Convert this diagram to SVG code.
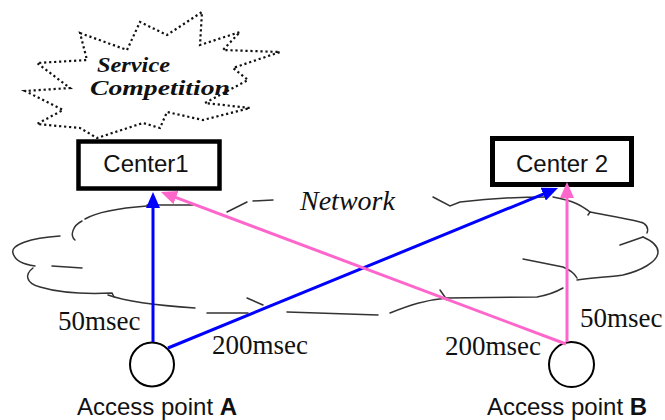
<svg xmlns="http://www.w3.org/2000/svg" width="665" height="420" viewBox="0 0 665 420">
  <style>
    .cloud { fill: none; stroke: #333; stroke-width: 1.5; stroke-linecap: round; }
    .burst { fill: none; stroke: #111; stroke-width: 2.2; stroke-dasharray: 2.2 2.8; }
    .box { fill: #fff; stroke: #000; }
    .ap { fill: #fff; stroke: #000; stroke-width: 2; }
    .sans { font-family: "Liberation Sans", Arial, sans-serif; fill: #111; }
    .serif { font-family: "Liberation Serif", "Times New Roman", serif; fill: #111; }
    .delay { font-size: 27px; }
    .blue { stroke: #0000ff; stroke-width: 3; fill: none; }
    .pink { stroke: #ff66cc; stroke-width: 3; fill: none; }
  </style>
  <defs>
    <marker id="arrow-blue" markerUnits="userSpaceOnUse" markerWidth="16" markerHeight="14" refX="4" refY="7" orient="auto">
      <path d="M0,0 L16,7 L0,14 z" fill="#0000ff"/>
    </marker>
    <marker id="arrow-pink" markerUnits="userSpaceOnUse" markerWidth="16" markerHeight="14" refX="4" refY="7" orient="auto">
      <path d="M0,0 L16,7 L0,14 z" fill="#ff66cc"/>
    </marker>
  </defs>

  <rect width="665" height="420" fill="#fff"/>

  <!-- network cloud -->
  <g id="network">
    <path class="cloud" d="M147,205 L193,205"/>
    <path class="cloud" d="M147,206 C120,208 97,212 85,219"/>
    <path class="cloud" d="M82,221 C72,226 70,236 75,240"/>
    <path class="cloud" d="M60,236 C30,238 10,245 13,253 C15,262 28,265 35,266"/>
    <path class="cloud" d="M52,266 L82,268"/>
    <path class="cloud" d="M33,268 C25,274 25,283 40,287 C60,293 90,294 112,293 L114,297"/>
    <path class="cloud" d="M108,295 C125,301 150,305 195,308"/>
    <path class="cloud" d="M207,313 L248,313"/>
    <path class="cloud" d="M247,298 L263,305"/>
    <path class="cloud" d="M287,312 L378,315"/>
    <path class="cloud" d="M390,313 C410,305 425,300 447,298 L537,297 C548,295 556,292 563,288"/>
    <path class="cloud" d="M440,290 L447,300"/>
    <path class="cloud" d="M523,259 L563,267 C570,270 575,274 577,278"/>
    <path class="cloud" d="M577,280 C595,277 612,277 623,275 C640,271 658,262 658,252 C658,245 650,240 643,237"/>
    <path class="cloud" d="M620,245 L643,237"/>
    <path class="cloud" d="M647,233 C649,228 646,223 640,222 C625,218 605,215 590,212 L588,215"/>
    <path class="cloud" d="M590,212 C582,206 575,201 553,197"/>
    <path class="cloud" d="M433,197 L450,206 L460,202 C485,199 515,197 547,197"/>
    <path class="cloud" d="M227,212 L247,202"/>
    <path class="cloud" d="M253,201 L273,200"/>
    <text class="serif" x="300" y="210" font-size="28" font-style="italic">Network</text>
  </g>

  <!-- service competition burst -->
  <g id="service-competition">
    <path class="burst" d="M80,33 L127,50 L140,22 L167,35 L202,12 L200,45 L240,32 L223,50 L280,52 L233,68 L248,80 L205,103 L250,108 L203,120 L167,112 L160,128 L143,123 L97,138 L80,128 L37,124 L63,110 L25,91 L70,88 L37,63 L87,60 Z"/>
    <text class="serif" x="97" y="72" font-size="20" font-style="italic" font-weight="bold" textLength="73" lengthAdjust="spacingAndGlyphs">Service</text>
    <text class="serif" x="90" y="95" font-size="20" font-style="italic" font-weight="bold" textLength="140" lengthAdjust="spacingAndGlyphs">Competition</text>
  </g>

  <!-- centers -->
  <g id="center1">
    <rect class="box" x="78.5" y="141.5" width="141" height="47" stroke-width="4.5"/>
    <text class="sans" x="146" y="172" font-size="24" text-anchor="middle">Center1</text>
  </g>
  <g id="center2">
    <rect class="box" x="492.5" y="138.5" width="139" height="46" stroke-width="5"/>
    <text class="sans" x="562" y="172" font-size="24" text-anchor="middle">Center 2</text>
  </g>

  <!-- access points -->
  <g id="access-point-a">
    <circle class="ap" cx="152" cy="364.5" r="22"/>
    <text class="sans" x="77" y="415" font-size="24">Access point <tspan font-weight="bold">A</tspan></text>
  </g>
  <g id="access-point-b">
    <circle class="ap" cx="571.5" cy="364.5" r="22.5"/>
    <text class="sans" x="487" y="415" font-size="24">Access point <tspan font-weight="bold">B</tspan></text>
  </g>

  <!-- connectors -->
  <g id="connectors">
    <line class="blue" x1="153" y1="342" x2="153" y2="204" marker-end="url(#arrow-blue)"/>
    <line class="blue" x1="168" y1="348" x2="546.9" y2="192.6" marker-end="url(#arrow-blue)"/>
    <line class="pink" x1="567" y1="342" x2="567" y2="194" marker-end="url(#arrow-pink)"/>
    <line class="pink" x1="566" y1="344" x2="172.2" y2="196.2" marker-end="url(#arrow-pink)"/>
  </g>

  <!-- delay labels -->
  <g id="labels">
    <text class="serif delay" x="58" y="330">50msec</text>
    <text class="serif delay" x="212" y="354">200msec</text>
    <text class="serif delay" x="445" y="355">200msec</text>
    <text class="serif delay" x="580" y="327">50msec</text>
  </g>
</svg>
